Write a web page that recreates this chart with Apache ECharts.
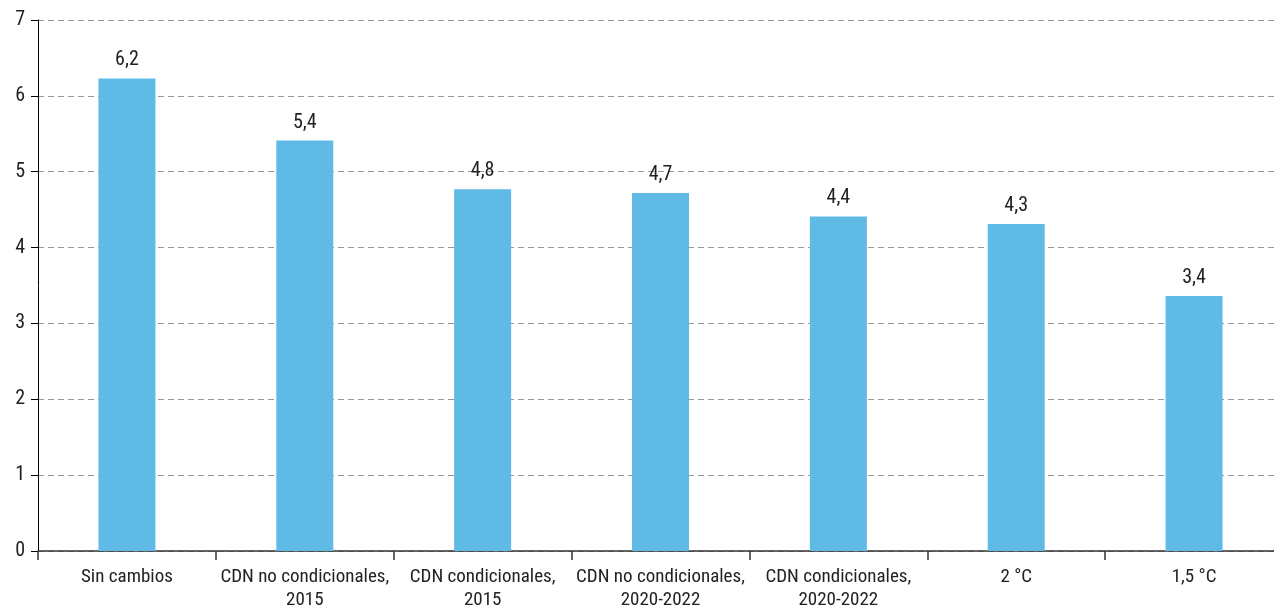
<!DOCTYPE html>
<html>
<head>
<meta charset="utf-8">
<script src="https://cdn.jsdelivr.net/npm/echarts@6/dist/echarts.min.js"></script>
<style>html,body{margin:0;padding:0;background:#fff;overflow:hidden;}#c{width:1283px;height:608px;}</style>
</head>
<body>
<div id="c"></div>
<script>
var categories = ['Sin cambios', 'CDN no condicionales,\n2015', 'CDN condicionales,\n2015', 'CDN no condicionales,\n2020-2022', 'CDN condicionales,\n2020-2022', '2 °C', '1,5 °C'];
var values = [6.23, 5.41, 4.77, 4.72, 4.41, 4.31, 3.36];
var labels = ['6,2', '5,4', '4,8', '4,7', '4,4', '4,3', '3,4'];
var yTicks = [0, 1, 2, 3, 4, 5, 6, 7];

var FONT = "'Liberation Sans Narrow', 'Roboto Condensed', 'DejaVu Sans Condensed', sans-serif";
var chart = echarts.init(document.getElementById('c'));
chart.setOption({
  animation: false,
  textStyle: {fontFamily: FONT},
  grid: {left: 38, top: 20, right: 0, bottom: 57, containLabel: false, outerBoundsMode: 'none'},
  xAxis: {
    type: 'category',
    data: categories,
    axisLine: {lineStyle: {color: '#333', width: 1.5}},
    axisTick: {show: true, length: 9, lineStyle: {color: '#333', width: 1.5}},
    axisLabel: {color: '#222', fontSize: 19, fontFamily: FONT, margin: 15, lineHeight: 23, interval: 0}
  },
  yAxis: {
    type: 'value',
    min: yTicks[0], max: yTicks[yTicks.length - 1], interval: 1,
    axisLine: {show: true, lineStyle: {color: '#000', width: 1}},
    axisTick: {show: true, length: 7, lineStyle: {color: '#000'}},
    axisLabel: {color: '#222', fontSize: 20, fontFamily: FONT, margin: 13},
    splitLine: {show: true, lineStyle: {color: '#999', type: [6, 4], width: 1}}
  },
  series: [{
    type: 'bar',
    data: values,
    barWidth: 57,
    itemStyle: {color: '#60BAE6'},
    label: {
      show: true, position: 'top', distance: 8, color: '#222', fontSize: 20, fontFamily: FONT,
      formatter: function (p) { return labels[p.dataIndex]; }
    }
  }]
});
</script>
</body>
</html>
